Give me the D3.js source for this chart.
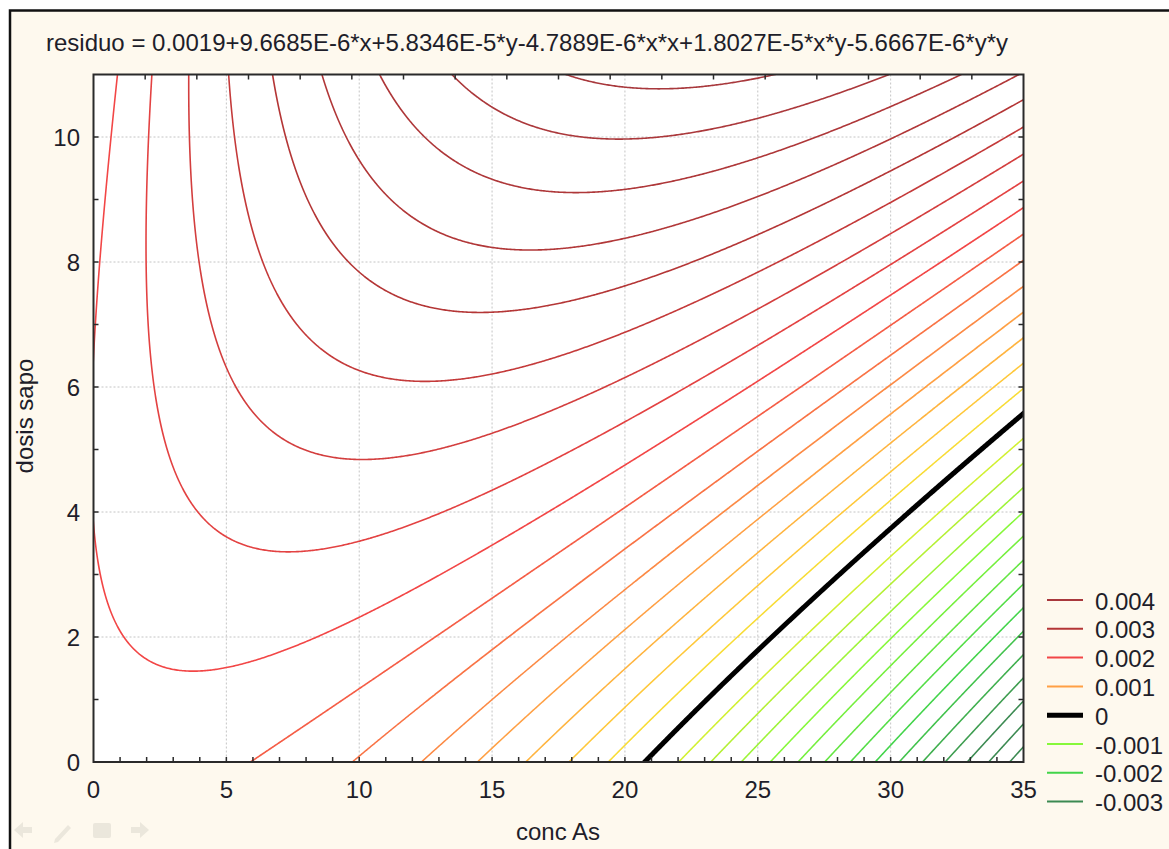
<!DOCTYPE html>
<html>
<head>
<meta charset="utf-8">
<script src="https://cdn.jsdelivr.net/npm/d3@7"></script>
<style>
  body { margin: 0; background: #fff; }
  text { font-family: "Liberation Sans", Arial, sans-serif; fill: #1e1e2a; }
</style>
</head>
<body>
<svg id="chart" width="1169" height="849"></svg>
<script>
// Contour plot of the fitted residue surface (conc As vs dosis sapo)

const TITLE = "residuo = 0.0019+9.6685E-6*x+5.8346E-5*y-4.7889E-6*x*x+1.8027E-5*x*y-5.6667E-6*y*y";
// surface coefficients: 1, x, y, x*x, x*y, y*y
// (constant read from where the contours sit; the title shows it rounded)
const COEF = [0.00186, 9.6685e-6, 5.8346e-5, -4.7889e-6, 1.8027e-5, -5.6667e-6];
const X_DOMAIN = [0, 35];
const Y_DOMAIN = [0, 11];
const X_TICKS = [0, 5, 10, 15, 20, 25, 30, 35];
const Y_TICKS = [0, 2, 4, 6, 8, 10];
const LEVELS = d3.range(-14, 17).map(k => k * 0.00025);
const LEGEND_VALUES = [0.004, 0.003, 0.002, 0.001, 0, -0.001, -0.002, -0.003];
const LEGEND_LABELS = ["0.004", "0.003", "0.002", "0.001", "0", "-0.001", "-0.002", "-0.003"];
const LEGEND_COLORS = ["#a8383c", "#b43636", "#f24646", "#ffa044", "#000000", "#86f83a", "#42d44a", "#3c8a52"];
// colour ramp used for the thin contour lines (0 is drawn in black on top)
const RAMP_VALUES = [0.004, 0.003, 0.002, 0.001, 0.0005, 0, -0.0005, -0.001, -0.002, -0.003];
const RAMP_COLORS = ["#a8383c", "#b43636", "#f24646", "#ffa044", "#ffc83a", "#f0f030", "#b4f034", "#86f83a", "#42d44a", "#3c8a52"];

const svg = d3.select("#chart");
const P = { left: 93.5, right: 1023.5, top: 74.5, bottom: 762 };

const x = d3.scaleLinear().domain(X_DOMAIN).range([P.left, P.right]);
const y = d3.scaleLinear().domain(Y_DOMAIN).range([P.bottom, P.top]);
const color = d3.scaleLinear().domain(RAMP_VALUES).range(RAMP_COLORS).clamp(true);

// ── window frame ──
svg.append("rect").attr("x", 0).attr("y", 0).attr("width", 1169).attr("height", 849).attr("fill", "#fff");
svg.append("rect").attr("x", 10).attr("y", 10.5).attr("width", 1200).attr("height", 900)
  .attr("fill", "#fef9ee").attr("stroke", "#111").attr("stroke-width", 2.5);

// title
svg.append("text").attr("x", 46).attr("y", 51)
  .style("font-size", "24px")
  .text(TITLE);

// plot area
svg.append("rect")
  .attr("x", P.left).attr("y", P.top)
  .attr("width", P.right - P.left).attr("height", P.bottom - P.top)
  .attr("fill", "#fff");

svg.append("clipPath").attr("id", "clip").append("rect")
  .attr("x", P.left).attr("y", P.top)
  .attr("width", P.right - P.left).attr("height", P.bottom - P.top);

// dotted grid at major ticks
const grid = svg.append("g").attr("stroke", "#c4c4c4").attr("stroke-width", 1).attr("stroke-dasharray", "2,2");
grid.selectAll(".gx").data(X_TICKS.slice(1, -1)).join("line")
  .attr("x1", d => x(d)).attr("x2", d => x(d)).attr("y1", P.top).attr("y2", P.bottom);
grid.selectAll(".gy").data(Y_TICKS.slice(1)).join("line")
  .attr("y1", d => y(d)).attr("y2", d => y(d)).attr("x1", P.left).attr("x2", P.right);

// ── contour lines ──
const surface = (u, v) => COEF[0] + COEF[1] * u + COEF[2] * v + COEF[3] * u * u + COEF[4] * u * v + COEF[5] * v * v;
const hx = 0.05, hy = 0.02, pad = 3;
const nx = Math.round((X_DOMAIN[1] - X_DOMAIN[0]) / hx) + 1 + 2 * pad;
const ny = Math.round((Y_DOMAIN[1] - Y_DOMAIN[0]) / hy) + 1 + 2 * pad;
const gx0 = X_DOMAIN[0] - pad * hx, gy0 = Y_DOMAIN[0] - pad * hy;
const values = new Float64Array(nx * ny);
for (let j = 0; j < ny; j++)
  for (let i = 0; i < nx; i++) values[j * nx + i] = surface(gx0 + i * hx, gy0 + j * hy);

const contours = d3.contours().size([nx, ny]).thresholds(LEVELS)(values);
const gridToScreen = d3.geoTransform({
  point(c, r) { this.stream.point(x(gx0 + (c - 0.5) * hx), y(gy0 + (r - 0.5) * hy)); }
});
const path = d3.geoPath(gridToScreen);

const cg = svg.append("g").attr("clip-path", "url(#clip)").attr("fill", "none");
cg.selectAll("path.iso")
  .data(contours.filter(c => Math.abs(c.value) > 1e-12))
  .join("path")
  .attr("class", "iso")
  .attr("d", path)
  .attr("stroke", d => color(d.value))
  .attr("stroke-width", 1.6);
cg.selectAll("path.zero")
  .data(contours.filter(c => Math.abs(c.value) <= 1e-12))
  .join("path")
  .attr("class", "zero")
  .attr("d", path)
  .attr("stroke", "#000")
  .attr("stroke-width", 5);

// ── axes: border + inward ticks on all four sides ──
const ax = svg.append("g").attr("stroke", "#2a2a2a").attr("stroke-width", 1.5);
ax.selectAll(".tb").data(d3.range(1, 35)).join("line")
  .attr("x1", d => x(d)).attr("x2", d => x(d)).attr("y1", P.bottom).attr("y2", P.bottom - 5);
ax.selectAll(".tt").data(d3.range(1, 18)).join("line")
  .attr("x1", d => P.left + d * (P.right - P.left) / 18).attr("x2", d => P.left + d * (P.right - P.left) / 18)
  .attr("y1", P.top).attr("y2", P.top + 5);
ax.selectAll(".tl").data(d3.range(1, 11)).join("line")
  .attr("y1", d => y(d)).attr("y2", d => y(d)).attr("x1", P.left).attr("x2", P.left + 5);
ax.selectAll(".tr").data(d3.range(1, 11)).join("line")
  .attr("y1", d => y(d)).attr("y2", d => y(d)).attr("x1", P.right).attr("x2", P.right - 5);
svg.append("rect")
  .attr("x", P.left).attr("y", P.top)
  .attr("width", P.right - P.left).attr("height", P.bottom - P.top)
  .attr("fill", "none").attr("stroke", "#2a2a2a").attr("stroke-width", 2);

// tick labels
svg.append("g").selectAll("text").data(X_TICKS).join("text")
  .attr("x", d => x(d)).attr("y", 798)
  .attr("text-anchor", "middle").style("font-size", "24px")
  .text(d => d);
svg.append("g").selectAll("text").data(Y_TICKS).join("text")
  .attr("x", 80).attr("y", d => y(d) + 9)
  .attr("text-anchor", "end").style("font-size", "24px")
  .text(d => d);

// axis titles
svg.append("text").attr("x", 558).attr("y", 840)
  .attr("text-anchor", "middle").style("font-size", "24px").text("conc As");
svg.append("text").attr("transform", "translate(33,416) rotate(-90)")
  .attr("text-anchor", "middle").style("font-size", "24px").text("dosis sapo");

// ── legend ──
const lg = svg.append("g").attr("transform", "translate(1047,600)");
const row = lg.selectAll("g").data(LEGEND_VALUES).join("g")
  .attr("transform", (d, i) => `translate(0,${i * 28.8})`);
row.append("line")
  .attr("x1", 0).attr("x2", 36)
  .attr("stroke", (d, i) => LEGEND_COLORS[i])
  .attr("stroke-width", d => d === 0 ? 5 : 2);
row.append("text")
  .attr("x", 48).attr("y", 9.5)
  .style("font-size", "24px")
  .text((d, i) => LEGEND_LABELS[i]);

// faint navigation icons, bottom-left
const nav = svg.append("g").attr("fill", "#ebe7dc").attr("stroke", "none");
nav.append("path").attr("d", "M14,830 l9,-8 v5 h9 v6 h-9 v5 z");
nav.append("path").attr("d", "M55,839 l13,-14 l3,3 l-13,14 l-4,1 z");
nav.append("rect").attr("x", 93).attr("y", 823).attr("width", 18).attr("height", 15).attr("rx", 2);
nav.append("path").attr("d", "M149,830 l-9,-8 v5 h-9 v6 h9 v5 z");
</script>
</body>
</html>
